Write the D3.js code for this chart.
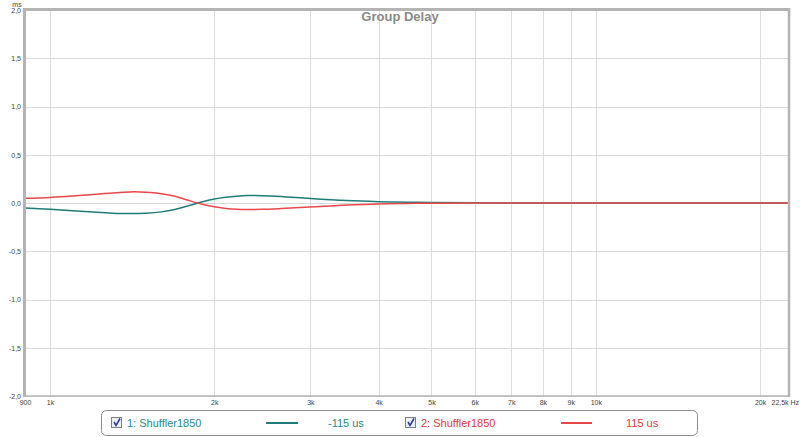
<!DOCTYPE html>
<html><head><meta charset="utf-8">
<script src="https://cdn.jsdelivr.net/npm/d3@7"></script>
<style>body{margin:0;background:#fff}svg{display:block}</style>
</head><body>
<svg id="c" width="800" height="437"></svg>
<script>
const freqs = [900,1000,1100,1200,1300,1400,1500,1600,1700,1800,1900,2000,2100,2200,2300,2450,2650,3000,3500,4000,4500,5000,6000,8000,12000,22500];
const series1 = [-0.052,-0.065,-0.08,-0.094,-0.105,-0.11,-0.106,-0.092,-0.064,-0.025,0.012,0.042,0.06,0.071,0.077,0.076,0.067,0.046,0.025,0.014,0.008,0.005,0.002,0,0,0];
const series2 = [0.048,0.058,0.072,0.088,0.104,0.115,0.112,0.096,0.068,0.025,-0.012,-0.04,-0.056,-0.065,-0.068,-0.066,-0.058,-0.042,-0.022,-0.01,-0.005,-0.002,0,0,0,0];
const names = ["1: Shuffler1850","2: Shuffler1850"];
const delays = ["-115 us","115 us"];
const colors = ["#1f7d78","#e8474c"];
const textColors = ["#2a8a86","#dd3a40"];
const xTicks = [900,1000,2000,3000,4000,5000,6000,7000,8000,9000,10000,20000,22500];
const xTickLabels = ["900","1k","2k","3k","4k","5k","6k","7k","8k","9k","10k","20k","22,5k Hz"];
const xGrid = [1000,2000,3000,4000,5000,6000,7000,8000,9000,10000,20000];
const yTicks = [2,1.5,1,0.5,0,-0.5,-1,-1.5,-2];
const yTickLabels = ["2,0","1,5","1,0","0,5","0,0","-0,5","-1,0","-1,5","-2,0"];

const svg = d3.select("#c");
const L=25, R=788, T=10, B=396;
const x = d3.scaleLog().domain([900,22500]).range([L,R]);
const y = d3.scaleLinear().domain([-2,2]).range([B,T]);

// grid
svg.append("g").selectAll("line").data(xGrid).join("line")
  .attr("x1",d=>Math.round(x(d))+0.5).attr("x2",d=>Math.round(x(d))+0.5)
  .attr("y1",T).attr("y2",B).attr("stroke","#dcdcdc").attr("stroke-width",1);
svg.append("g").selectAll("line").data(yTicks).join("line")
  .attr("x1",L).attr("x2",R)
  .attr("y1",d=>Math.round(y(d))+0.5).attr("y2",d=>Math.round(y(d))+0.5)
  .attr("stroke","#dcdcdc").attr("stroke-width",1);

// title
svg.append("text").attr("x",400).attr("y",21).attr("text-anchor","middle")
  .attr("font-family","Liberation Sans, Arial, sans-serif").attr("font-weight","bold")
  .attr("font-size",13).attr("fill","#8a8a8a").text("Group Delay");

// curves
const line = d3.line().x(d=>x(d[0])).y(d=>y(d[1])).curve(d3.curveCatmullRom.alpha(0.5));
[series1,series2].forEach((s,i)=>{
  svg.append("path").datum(freqs.map((f,j)=>[f,s[j]]))
    .attr("d",line).attr("fill","none").attr("stroke",colors[i]).attr("stroke-width",1.5);
});

// frame
svg.append("rect").attr("x",L-1).attr("y",T-1).attr("width",R-L+2).attr("height",B-T+1)
  .attr("fill","none").attr("stroke","#b4b4b4").attr("stroke-width",1.5);
svg.append("line").attr("x1",L-0.5).attr("x2",L-0.5).attr("y1",T-2).attr("y2",B+1).attr("stroke","#b4b4b4").attr("stroke-width",3);
svg.append("line").attr("x1",L-2).attr("x2",R+2).attr("y1",T-0.5).attr("y2",T-0.5).attr("stroke","#b4b4b4").attr("stroke-width",3);
svg.append("line").attr("x1",R+1).attr("x2",R+1).attr("y1",T-2).attr("y2",B+1).attr("stroke","#b4b4b4").attr("stroke-width",2.5);

// axes labels
const yAxis = d3.axisLeft(y).tickValues(yTicks).tickSize(0).tickPadding(3)
  .tickFormat((d,i)=>yTickLabels[i]);
const gy = svg.append("g").attr("transform",`translate(${L-1},0)`).call(yAxis);
gy.select(".domain").remove();
gy.selectAll("text").attr("font-family","Liberation Sans, Arial, sans-serif").attr("font-size",7).attr("fill","#444");
svg.append("text").attr("x",17).attr("y",7).attr("text-anchor","middle")
  .attr("font-family","Liberation Sans, Arial, sans-serif").attr("font-size",7).attr("fill","#444").text("ms");

const xAxis = d3.axisBottom(x).tickValues(xTicks).tickSize(0).tickPadding(4)
  .tickFormat((d,i)=>xTickLabels[i]);
const gx = svg.append("g").attr("transform",`translate(0,${B})`).call(xAxis);
gx.select(".domain").remove();
gx.selectAll("text").attr("font-family","Liberation Sans, Arial, sans-serif").attr("font-size",7).attr("fill","#444");
gx.selectAll(".tick").filter(d=>d===22500).select("text").attr("text-anchor","start").attr("dx",-17);

// legend
const lg = svg.append("g");
lg.append("rect").attr("x",101.5).attr("y",410.5).attr("width",596).attr("height",25).attr("rx",5)
  .attr("fill","#fff").attr("stroke","#8c8c8c").attr("stroke-width",1);
const pos = [{cb:111, tx:127, l1:266, l2:298, dt:328},{cb:405, tx:421, l1:561, l2:592, dt:626}];
pos.forEach((p,i)=>{
  lg.append("rect").attr("x",p.cb+0.5).attr("y",417.5).attr("width",10).attr("height",10)
    .attr("fill","#eef0f6").attr("stroke","#7a7f8c");
  lg.append("path").attr("d",`M${p.cb+3},${422} L${p.cb+5},${425.5} L${p.cb+9},${418.5}`)
    .attr("fill","none").attr("stroke","#2b3f9a").attr("stroke-width",1.6);
  lg.append("text").attr("x",p.tx).attr("y",427).attr("font-family","Liberation Sans, Arial, sans-serif")
    .attr("font-size",11).attr("fill",textColors[i]).text(names[i]);
  lg.append("line").attr("x1",p.l1).attr("x2",p.l2).attr("y1",423).attr("y2",423)
    .attr("stroke",colors[i]).attr("stroke-width",2);
  lg.append("text").attr("x",p.dt).attr("y",427).attr("font-family","Liberation Sans, Arial, sans-serif")
    .attr("font-size",11).attr("fill",textColors[i]).text(delays[i]);
});
</script>
</body></html>
